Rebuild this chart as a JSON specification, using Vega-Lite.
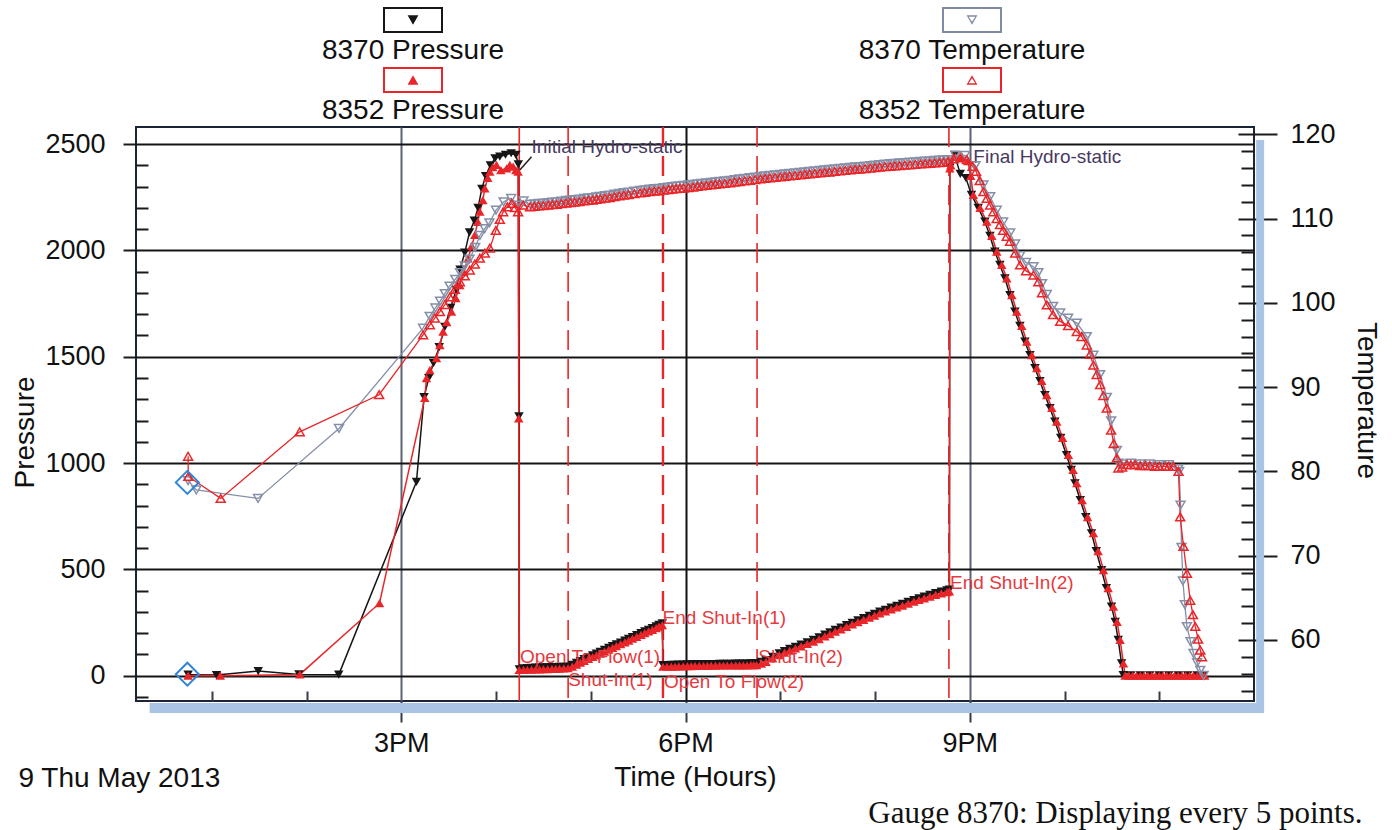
{
  "$schema": "https://vega.github.io/schema/vega-lite/v6.json",
  "width": 1118,
  "height": 574,
  "autosize": {"type": "none"},
  "padding": {"left": 136, "top": 127, "right": 138, "bottom": 129},
  "background": "white",
  "datasets": {
    "pressure": [
      {"s":"8370 Pressure","t":12.75,"v":5},{"s":"8370 Pressure","t":13.05,"v":3},{"s":"8370 Pressure","t":13.49,"v":22},{"s":"8370 Pressure","t":13.92,"v":6},{"s":"8370 Pressure","t":14.34,"v":5},
      {"s":"8370 Pressure","t":15.16,"v":912},{"s":"8370 Pressure","t":15.24,"v":1310},{"s":"8370 Pressure","t":15.29,"v":1400},{"s":"8370 Pressure","t":15.34,"v":1470},{"s":"8370 Pressure","t":15.40,"v":1545},{"s":"8370 Pressure","t":15.46,"v":1640},{"s":"8370 Pressure","t":15.52,"v":1730},{"s":"8370 Pressure","t":15.58,"v":1815},{"s":"8370 Pressure","t":15.62,"v":1910},{"s":"8370 Pressure","t":15.67,"v":1990},{"s":"8370 Pressure","t":15.72,"v":2085},{"s":"8370 Pressure","t":15.77,"v":2140},{"s":"8370 Pressure","t":15.81,"v":2200},{"s":"8370 Pressure","t":15.85,"v":2290},{"s":"8370 Pressure","t":15.89,"v":2350},{"s":"8370 Pressure","t":15.94,"v":2400},{"s":"8370 Pressure","t":15.99,"v":2433},{"s":"8370 Pressure","t":16.04,"v":2441},{"s":"8370 Pressure","t":16.10,"v":2450},{"s":"8370 Pressure","t":16.16,"v":2457},{"s":"8370 Pressure","t":16.21,"v":2449},{"s":"8370 Pressure","t":16.235,"v":2405},{"s":"8370 Pressure","t":16.242,"v":1220},{"s":"8370 Pressure","t":16.246,"v":30},
      {"s":"8370 Pressure","t":16.29,"v":35},{"s":"8370 Pressure","t":16.33,"v":36},{"s":"8370 Pressure","t":16.375,"v":37},{"s":"8370 Pressure","t":16.42,"v":38},{"s":"8370 Pressure","t":16.46,"v":38},{"s":"8370 Pressure","t":16.50,"v":39},{"s":"8370 Pressure","t":16.545,"v":39},{"s":"8370 Pressure","t":16.59,"v":40},{"s":"8370 Pressure","t":16.63,"v":40},{"s":"8370 Pressure","t":16.67,"v":41},{"s":"8370 Pressure","t":16.715,"v":42},{"s":"8370 Pressure","t":16.76,"v":43},{"s":"8370 Pressure","t":16.805,"v":51},{"s":"8370 Pressure","t":16.85,"v":60},{"s":"8370 Pressure","t":16.89,"v":69},{"s":"8370 Pressure","t":16.93,"v":78},{"s":"8370 Pressure","t":16.975,"v":87},{"s":"8370 Pressure","t":17.02,"v":96},{"s":"8370 Pressure","t":17.06,"v":104},{"s":"8370 Pressure","t":17.10,"v":112},{"s":"8370 Pressure","t":17.145,"v":121},{"s":"8370 Pressure","t":17.19,"v":131},{"s":"8370 Pressure","t":17.23,"v":139},{"s":"8370 Pressure","t":17.27,"v":147},{"s":"8370 Pressure","t":17.315,"v":156},{"s":"8370 Pressure","t":17.36,"v":165},{"s":"8370 Pressure","t":17.40,"v":173},{"s":"8370 Pressure","t":17.44,"v":182},{"s":"8370 Pressure","t":17.485,"v":191},{"s":"8370 Pressure","t":17.53,"v":200},{"s":"8370 Pressure","t":17.57,"v":208},{"s":"8370 Pressure","t":17.61,"v":216},{"s":"8370 Pressure","t":17.65,"v":224},{"s":"8370 Pressure","t":17.69,"v":232},{"s":"8370 Pressure","t":17.72,"v":239},{"s":"8370 Pressure","t":17.755,"v":246},
      {"s":"8370 Pressure","t":17.762,"v":50},{"s":"8370 Pressure","t":17.805,"v":50},{"s":"8370 Pressure","t":17.85,"v":51},{"s":"8370 Pressure","t":17.89,"v":51},{"s":"8370 Pressure","t":17.93,"v":52},{"s":"8370 Pressure","t":17.975,"v":52},{"s":"8370 Pressure","t":18.02,"v":53},{"s":"8370 Pressure","t":18.06,"v":53},{"s":"8370 Pressure","t":18.10,"v":54},{"s":"8370 Pressure","t":18.145,"v":54},{"s":"8370 Pressure","t":18.19,"v":54},{"s":"8370 Pressure","t":18.23,"v":54},{"s":"8370 Pressure","t":18.27,"v":55},{"s":"8370 Pressure","t":18.315,"v":55},{"s":"8370 Pressure","t":18.36,"v":56},{"s":"8370 Pressure","t":18.40,"v":56},{"s":"8370 Pressure","t":18.44,"v":56},{"s":"8370 Pressure","t":18.485,"v":56},{"s":"8370 Pressure","t":18.53,"v":57},{"s":"8370 Pressure","t":18.57,"v":57},{"s":"8370 Pressure","t":18.61,"v":57},{"s":"8370 Pressure","t":18.65,"v":57},{"s":"8370 Pressure","t":18.69,"v":58},{"s":"8370 Pressure","t":18.72,"v":58},{"s":"8370 Pressure","t":18.75,"v":58},
      {"s":"8370 Pressure","t":18.80,"v":65},{"s":"8370 Pressure","t":18.85,"v":73},{"s":"8370 Pressure","t":18.92,"v":89},{"s":"8370 Pressure","t":18.99,"v":105},{"s":"8370 Pressure","t":19.045,"v":116},{"s":"8370 Pressure","t":19.10,"v":126},{"s":"8370 Pressure","t":19.16,"v":136},{"s":"8370 Pressure","t":19.22,"v":146},{"s":"8370 Pressure","t":19.285,"v":157},{"s":"8370 Pressure","t":19.35,"v":168},{"s":"8370 Pressure","t":19.41,"v":180},{"s":"8370 Pressure","t":19.47,"v":193},{"s":"8370 Pressure","t":19.525,"v":204},{"s":"8370 Pressure","t":19.58,"v":215},{"s":"8370 Pressure","t":19.64,"v":226},{"s":"8370 Pressure","t":19.70,"v":238},{"s":"8370 Pressure","t":19.76,"v":249},{"s":"8370 Pressure","t":19.82,"v":260},{"s":"8370 Pressure","t":19.88,"v":271},{"s":"8370 Pressure","t":19.94,"v":281},{"s":"8370 Pressure","t":19.995,"v":291},{"s":"8370 Pressure","t":20.05,"v":301},{"s":"8370 Pressure","t":20.11,"v":310},{"s":"8370 Pressure","t":20.17,"v":320},{"s":"8370 Pressure","t":20.23,"v":329},{"s":"8370 Pressure","t":20.29,"v":338},{"s":"8370 Pressure","t":20.35,"v":347},{"s":"8370 Pressure","t":20.41,"v":356},{"s":"8370 Pressure","t":20.465,"v":364},{"s":"8370 Pressure","t":20.52,"v":372},{"s":"8370 Pressure","t":20.58,"v":380},{"s":"8370 Pressure","t":20.64,"v":388},{"s":"8370 Pressure","t":20.70,"v":395},{"s":"8370 Pressure","t":20.76,"v":401},{"s":"8370 Pressure","t":20.785,"v":405},
      {"s":"8370 Pressure","t":20.79,"v":2390},{"s":"8370 Pressure","t":20.84,"v":2450},{"s":"8370 Pressure","t":20.90,"v":2360},{"s":"8370 Pressure","t":20.96,"v":2340},
      {"s":"8370 Pressure","t":21.018,"v":2261},{"s":"8370 Pressure","t":21.089,"v":2200},{"s":"8370 Pressure","t":21.160,"v":2135},{"s":"8370 Pressure","t":21.213,"v":2068},{"s":"8370 Pressure","t":21.265,"v":1994},{"s":"8370 Pressure","t":21.318,"v":1932},{"s":"8370 Pressure","t":21.371,"v":1869},{"s":"8370 Pressure","t":21.424,"v":1790},{"s":"8370 Pressure","t":21.476,"v":1712},{"s":"8370 Pressure","t":21.529,"v":1645},{"s":"8370 Pressure","t":21.582,"v":1571},{"s":"8370 Pressure","t":21.635,"v":1508},{"s":"8370 Pressure","t":21.688,"v":1446},{"s":"8370 Pressure","t":21.740,"v":1386},{"s":"8370 Pressure","t":21.793,"v":1320},{"s":"8370 Pressure","t":21.846,"v":1259},{"s":"8370 Pressure","t":21.898,"v":1195},{"s":"8370 Pressure","t":21.960,"v":1118},{"s":"8370 Pressure","t":22.021,"v":1038},{"s":"8370 Pressure","t":22.071,"v":968},{"s":"8370 Pressure","t":22.110,"v":905},{"s":"8370 Pressure","t":22.166,"v":826},{"s":"8370 Pressure","t":22.224,"v":746},{"s":"8370 Pressure","t":22.285,"v":670},{"s":"8370 Pressure","t":22.335,"v":586},{"s":"8370 Pressure","t":22.391,"v":497},{"s":"8370 Pressure","t":22.441,"v":412},{"s":"8370 Pressure","t":22.496,"v":325},{"s":"8370 Pressure","t":22.535,"v":253},{"s":"8370 Pressure","t":22.567,"v":168},{"s":"8370 Pressure","t":22.602,"v":58},{"s":"8370 Pressure","t":22.620,"v":3},
      {"s":"8370 Pressure","t":22.70,"v":2},{"s":"8370 Pressure","t":22.80,"v":2},{"s":"8370 Pressure","t":22.90,"v":2},{"s":"8370 Pressure","t":23.00,"v":2},{"s":"8370 Pressure","t":23.10,"v":2},{"s":"8370 Pressure","t":23.20,"v":2},{"s":"8370 Pressure","t":23.30,"v":2},{"s":"8370 Pressure","t":23.40,"v":2},{"s":"8370 Pressure","t":23.46,"v":2},

      {"s":"8352 Pressure","t":12.75,"v":0},{"s":"8352 Pressure","t":13.09,"v":0},{"s":"8352 Pressure","t":13.93,"v":6},{"s":"8352 Pressure","t":14.77,"v":341},
      {"s":"8352 Pressure","t":15.248,"v":1306},{"s":"8352 Pressure","t":15.266,"v":1399},{"s":"8352 Pressure","t":15.301,"v":1437},{"s":"8352 Pressure","t":15.372,"v":1493},{"s":"8352 Pressure","t":15.407,"v":1555},{"s":"8352 Pressure","t":15.441,"v":1618},{"s":"8352 Pressure","t":15.480,"v":1663},{"s":"8352 Pressure","t":15.530,"v":1712},{"s":"8352 Pressure","t":15.576,"v":1776},{"s":"8352 Pressure","t":15.618,"v":1837},{"s":"8352 Pressure","t":15.660,"v":1899},{"s":"8352 Pressure","t":15.705,"v":1963},{"s":"8352 Pressure","t":15.744,"v":2021},{"s":"8352 Pressure","t":15.776,"v":2073},{"s":"8352 Pressure","t":15.808,"v":2134},{"s":"8352 Pressure","t":15.829,"v":2182},{"s":"8352 Pressure","t":15.861,"v":2237},{"s":"8352 Pressure","t":15.882,"v":2292},{"s":"8352 Pressure","t":15.913,"v":2341},{"s":"8352 Pressure","t":15.935,"v":2370},{"s":"8352 Pressure","t":15.966,"v":2392},{"s":"8352 Pressure","t":16.005,"v":2402},{"s":"8352 Pressure","t":16.051,"v":2378},{"s":"8352 Pressure","t":16.111,"v":2386},{"s":"8352 Pressure","t":16.146,"v":2402},{"s":"8352 Pressure","t":16.181,"v":2394},{"s":"8352 Pressure","t":16.209,"v":2378},{"s":"8352 Pressure","t":16.233,"v":2370},{"s":"8352 Pressure","t":16.240,"v":1210},{"s":"8352 Pressure","t":16.245,"v":27},
      {"s":"8352 Pressure","t":16.29,"v":27},{"s":"8352 Pressure","t":16.33,"v":28},{"s":"8352 Pressure","t":16.375,"v":29},{"s":"8352 Pressure","t":16.42,"v":30},{"s":"8352 Pressure","t":16.46,"v":30},{"s":"8352 Pressure","t":16.50,"v":31},{"s":"8352 Pressure","t":16.545,"v":31},{"s":"8352 Pressure","t":16.59,"v":32},{"s":"8352 Pressure","t":16.63,"v":32},{"s":"8352 Pressure","t":16.67,"v":33},{"s":"8352 Pressure","t":16.715,"v":34},{"s":"8352 Pressure","t":16.76,"v":35},{"s":"8352 Pressure","t":16.805,"v":43},{"s":"8352 Pressure","t":16.85,"v":52},{"s":"8352 Pressure","t":16.89,"v":61},{"s":"8352 Pressure","t":16.93,"v":70},{"s":"8352 Pressure","t":16.975,"v":79},{"s":"8352 Pressure","t":17.02,"v":88},{"s":"8352 Pressure","t":17.06,"v":96},{"s":"8352 Pressure","t":17.10,"v":104},{"s":"8352 Pressure","t":17.145,"v":113},{"s":"8352 Pressure","t":17.19,"v":123},{"s":"8352 Pressure","t":17.23,"v":131},{"s":"8352 Pressure","t":17.27,"v":139},{"s":"8352 Pressure","t":17.315,"v":148},{"s":"8352 Pressure","t":17.36,"v":157},{"s":"8352 Pressure","t":17.40,"v":165},{"s":"8352 Pressure","t":17.44,"v":174},{"s":"8352 Pressure","t":17.485,"v":183},{"s":"8352 Pressure","t":17.53,"v":192},{"s":"8352 Pressure","t":17.57,"v":200},{"s":"8352 Pressure","t":17.61,"v":208},{"s":"8352 Pressure","t":17.65,"v":216},{"s":"8352 Pressure","t":17.69,"v":224},{"s":"8352 Pressure","t":17.72,"v":231},{"s":"8352 Pressure","t":17.755,"v":238},
      {"s":"8352 Pressure","t":17.762,"v":42},{"s":"8352 Pressure","t":17.805,"v":42},{"s":"8352 Pressure","t":17.85,"v":43},{"s":"8352 Pressure","t":17.89,"v":43},{"s":"8352 Pressure","t":17.93,"v":44},{"s":"8352 Pressure","t":17.975,"v":44},{"s":"8352 Pressure","t":18.02,"v":45},{"s":"8352 Pressure","t":18.06,"v":45},{"s":"8352 Pressure","t":18.10,"v":46},{"s":"8352 Pressure","t":18.145,"v":46},{"s":"8352 Pressure","t":18.19,"v":46},{"s":"8352 Pressure","t":18.23,"v":46},{"s":"8352 Pressure","t":18.27,"v":47},{"s":"8352 Pressure","t":18.315,"v":47},{"s":"8352 Pressure","t":18.36,"v":48},{"s":"8352 Pressure","t":18.40,"v":48},{"s":"8352 Pressure","t":18.44,"v":48},{"s":"8352 Pressure","t":18.485,"v":48},{"s":"8352 Pressure","t":18.53,"v":49},{"s":"8352 Pressure","t":18.57,"v":49},{"s":"8352 Pressure","t":18.61,"v":49},{"s":"8352 Pressure","t":18.65,"v":49},{"s":"8352 Pressure","t":18.69,"v":50},{"s":"8352 Pressure","t":18.72,"v":50},{"s":"8352 Pressure","t":18.75,"v":50},
      {"s":"8352 Pressure","t":18.80,"v":57},{"s":"8352 Pressure","t":18.85,"v":65},{"s":"8352 Pressure","t":18.92,"v":81},{"s":"8352 Pressure","t":18.99,"v":97},{"s":"8352 Pressure","t":19.045,"v":108},{"s":"8352 Pressure","t":19.10,"v":118},{"s":"8352 Pressure","t":19.16,"v":128},{"s":"8352 Pressure","t":19.22,"v":138},{"s":"8352 Pressure","t":19.285,"v":149},{"s":"8352 Pressure","t":19.35,"v":160},{"s":"8352 Pressure","t":19.41,"v":172},{"s":"8352 Pressure","t":19.47,"v":185},{"s":"8352 Pressure","t":19.525,"v":196},{"s":"8352 Pressure","t":19.58,"v":207},{"s":"8352 Pressure","t":19.64,"v":218},{"s":"8352 Pressure","t":19.70,"v":230},{"s":"8352 Pressure","t":19.76,"v":241},{"s":"8352 Pressure","t":19.82,"v":252},{"s":"8352 Pressure","t":19.88,"v":263},{"s":"8352 Pressure","t":19.94,"v":273},{"s":"8352 Pressure","t":19.995,"v":283},{"s":"8352 Pressure","t":20.05,"v":293},{"s":"8352 Pressure","t":20.11,"v":302},{"s":"8352 Pressure","t":20.17,"v":312},{"s":"8352 Pressure","t":20.23,"v":321},{"s":"8352 Pressure","t":20.29,"v":330},{"s":"8352 Pressure","t":20.35,"v":339},{"s":"8352 Pressure","t":20.41,"v":348},{"s":"8352 Pressure","t":20.465,"v":356},{"s":"8352 Pressure","t":20.52,"v":364},{"s":"8352 Pressure","t":20.58,"v":372},{"s":"8352 Pressure","t":20.64,"v":380},{"s":"8352 Pressure","t":20.70,"v":387},{"s":"8352 Pressure","t":20.76,"v":393},{"s":"8352 Pressure","t":20.785,"v":397},
      {"s":"8352 Pressure","t":20.79,"v":2386},{"s":"8352 Pressure","t":20.80,"v":2400},{"s":"8352 Pressure","t":20.85,"v":2440},{"s":"8352 Pressure","t":20.92,"v":2440},{"s":"8352 Pressure","t":20.98,"v":2420},{"s":"8352 Pressure","t":21.01,"v":2350},
      {"s":"8352 Pressure","t":21.038,"v":2261},{"s":"8352 Pressure","t":21.109,"v":2200},{"s":"8352 Pressure","t":21.180,"v":2135},{"s":"8352 Pressure","t":21.233,"v":2068},{"s":"8352 Pressure","t":21.285,"v":1994},{"s":"8352 Pressure","t":21.338,"v":1932},{"s":"8352 Pressure","t":21.391,"v":1869},{"s":"8352 Pressure","t":21.444,"v":1790},{"s":"8352 Pressure","t":21.496,"v":1712},{"s":"8352 Pressure","t":21.549,"v":1645},{"s":"8352 Pressure","t":21.602,"v":1571},{"s":"8352 Pressure","t":21.655,"v":1508},{"s":"8352 Pressure","t":21.708,"v":1446},{"s":"8352 Pressure","t":21.760,"v":1386},{"s":"8352 Pressure","t":21.813,"v":1320},{"s":"8352 Pressure","t":21.866,"v":1259},{"s":"8352 Pressure","t":21.918,"v":1195},{"s":"8352 Pressure","t":21.980,"v":1118},{"s":"8352 Pressure","t":22.041,"v":1038},{"s":"8352 Pressure","t":22.091,"v":968},{"s":"8352 Pressure","t":22.130,"v":905},{"s":"8352 Pressure","t":22.186,"v":826},{"s":"8352 Pressure","t":22.244,"v":746},{"s":"8352 Pressure","t":22.305,"v":670},{"s":"8352 Pressure","t":22.355,"v":586},{"s":"8352 Pressure","t":22.411,"v":497},{"s":"8352 Pressure","t":22.461,"v":412},{"s":"8352 Pressure","t":22.516,"v":325},{"s":"8352 Pressure","t":22.555,"v":253},{"s":"8352 Pressure","t":22.587,"v":168},{"s":"8352 Pressure","t":22.622,"v":58},{"s":"8352 Pressure","t":22.640,"v":0},
      {"s":"8352 Pressure","t":22.68,"v":0},{"s":"8352 Pressure","t":22.72,"v":0},{"s":"8352 Pressure","t":22.76,"v":0},{"s":"8352 Pressure","t":22.80,"v":0},{"s":"8352 Pressure","t":22.84,"v":0},{"s":"8352 Pressure","t":22.88,"v":0},{"s":"8352 Pressure","t":22.92,"v":0},{"s":"8352 Pressure","t":22.96,"v":0},{"s":"8352 Pressure","t":23.00,"v":0},{"s":"8352 Pressure","t":23.04,"v":0},{"s":"8352 Pressure","t":23.08,"v":0},{"s":"8352 Pressure","t":23.12,"v":0},{"s":"8352 Pressure","t":23.16,"v":0},{"s":"8352 Pressure","t":23.20,"v":0},{"s":"8352 Pressure","t":23.24,"v":0},{"s":"8352 Pressure","t":23.28,"v":0},{"s":"8352 Pressure","t":23.32,"v":0},{"s":"8352 Pressure","t":23.36,"v":0},{"s":"8352 Pressure","t":23.40,"v":0},{"s":"8352 Pressure","t":23.44,"v":0},{"s":"8352 Pressure","t":23.48,"v":0}
    ],
    "temperature": [
      {"s":"8370 Temperature","t":12.75,"v":78.9},{"s":"8370 Temperature","t":12.837,"v":77.8},{"s":"8370 Temperature","t":13.488,"v":76.8},{"s":"8370 Temperature","t":14.343,"v":85.1},{"s":"8370 Temperature","t":15.23,"v":97.0},{"s":"8370 Temperature","t":15.30,"v":98.4},{"s":"8370 Temperature","t":15.36,"v":99.4},{"s":"8370 Temperature","t":15.41,"v":100.2},{"s":"8370 Temperature","t":15.46,"v":101.1},{"s":"8370 Temperature","t":15.51,"v":102.0},{"s":"8370 Temperature","t":15.57,"v":102.8},{"s":"8370 Temperature","t":15.62,"v":103.6},{"s":"8370 Temperature","t":15.67,"v":104.4},{"s":"8370 Temperature","t":15.72,"v":105.2},{"s":"8370 Temperature","t":15.78,"v":106.6},{"s":"8370 Temperature","t":15.83,"v":108.0},{"s":"8370 Temperature","t":15.88,"v":108.8},{"s":"8370 Temperature","t":15.93,"v":109.5},{"s":"8370 Temperature","t":16.00,"v":111.0},{"s":"8370 Temperature","t":16.08,"v":112.0},{"s":"8370 Temperature","t":16.16,"v":112.4},{"s":"8370 Temperature","t":16.23,"v":111.6},{"s":"8370 Temperature","t":16.29,"v":112.1},
      {"s":"8370 Temperature","t":16.36,"v":111.7},{"s":"8370 Temperature","t":16.405,"v":111.75},{"s":"8370 Temperature","t":16.45,"v":111.8},{"s":"8370 Temperature","t":16.50,"v":111.85},{"s":"8370 Temperature","t":16.55,"v":111.9},{"s":"8370 Temperature","t":16.595,"v":111.95},{"s":"8370 Temperature","t":16.64,"v":112.0},{"s":"8370 Temperature","t":16.69,"v":112.08},{"s":"8370 Temperature","t":16.74,"v":112.15},{"s":"8370 Temperature","t":16.785,"v":112.2},{"s":"8370 Temperature","t":16.83,"v":112.25},{"s":"8370 Temperature","t":16.88,"v":112.32},{"s":"8370 Temperature","t":16.93,"v":112.4},{"s":"8370 Temperature","t":16.975,"v":112.45},{"s":"8370 Temperature","t":17.02,"v":112.5},{"s":"8370 Temperature","t":17.06,"v":112.57},{"s":"8370 Temperature","t":17.10,"v":112.63},{"s":"8370 Temperature","t":17.15,"v":112.72},{"s":"8370 Temperature","t":17.20,"v":112.8},{"s":"8370 Temperature","t":17.25,"v":112.9},{"s":"8370 Temperature","t":17.30,"v":113.0},{"s":"8370 Temperature","t":17.35,"v":113.08},{"s":"8370 Temperature","t":17.40,"v":113.15},{"s":"8370 Temperature","t":17.46,"v":113.25},{"s":"8370 Temperature","t":17.52,"v":113.34},{"s":"8370 Temperature","t":17.57,"v":113.42},{"s":"8370 Temperature","t":17.62,"v":113.5},{"s":"8370 Temperature","t":17.67,"v":113.55},{"s":"8370 Temperature","t":17.72,"v":113.6},{"s":"8370 Temperature","t":17.77,"v":113.68},{"s":"8370 Temperature","t":17.82,"v":113.75},{"s":"8370 Temperature","t":17.86,"v":113.8},{"s":"8370 Temperature","t":17.90,"v":113.85},{"s":"8370 Temperature","t":17.94,"v":113.89},{"s":"8370 Temperature","t":17.98,"v":113.93},{"s":"8370 Temperature","t":18.03,"v":113.99},{"s":"8370 Temperature","t":18.08,"v":114.05},{"s":"8370 Temperature","t":18.125,"v":114.12},{"s":"8370 Temperature","t":18.17,"v":114.18},{"s":"8370 Temperature","t":18.22,"v":114.24},{"s":"8370 Temperature","t":18.27,"v":114.3},{"s":"8370 Temperature","t":18.315,"v":114.36},{"s":"8370 Temperature","t":18.36,"v":114.41},{"s":"8370 Temperature","t":18.415,"v":114.48},{"s":"8370 Temperature","t":18.47,"v":114.55},{"s":"8370 Temperature","t":18.52,"v":114.63},{"s":"8370 Temperature","t":18.57,"v":114.7},{"s":"8370 Temperature","t":18.625,"v":114.78},{"s":"8370 Temperature","t":18.68,"v":114.85},{"s":"8370 Temperature","t":18.735,"v":114.93},{"s":"8370 Temperature","t":18.79,"v":115.0},{"s":"8370 Temperature","t":18.84,"v":115.06},{"s":"8370 Temperature","t":18.89,"v":115.12},{"s":"8370 Temperature","t":18.945,"v":115.19},{"s":"8370 Temperature","t":19.00,"v":115.25},{"s":"8370 Temperature","t":19.05,"v":115.3},{"s":"8370 Temperature","t":19.10,"v":115.36},{"s":"8370 Temperature","t":19.155,"v":115.42},{"s":"8370 Temperature","t":19.21,"v":115.48},{"s":"8370 Temperature","t":19.26,"v":115.54},{"s":"8370 Temperature","t":19.31,"v":115.6},{"s":"8370 Temperature","t":19.365,"v":115.66},{"s":"8370 Temperature","t":19.42,"v":115.72},{"s":"8370 Temperature","t":19.47,"v":115.78},{"s":"8370 Temperature","t":19.52,"v":115.83},{"s":"8370 Temperature","t":19.575,"v":115.89},{"s":"8370 Temperature","t":19.63,"v":115.95},{"s":"8370 Temperature","t":19.685,"v":116.01},{"s":"8370 Temperature","t":19.74,"v":116.07},{"s":"8370 Temperature","t":19.79,"v":116.13},{"s":"8370 Temperature","t":19.84,"v":116.18},{"s":"8370 Temperature","t":19.895,"v":116.24},{"s":"8370 Temperature","t":19.95,"v":116.3},{"s":"8370 Temperature","t":20.00,"v":116.36},{"s":"8370 Temperature","t":20.05,"v":116.42},{"s":"8370 Temperature","t":20.105,"v":116.47},{"s":"8370 Temperature","t":20.16,"v":116.51},{"s":"8370 Temperature","t":20.21,"v":116.56},{"s":"8370 Temperature","t":20.26,"v":116.6},{"s":"8370 Temperature","t":20.315,"v":116.65},{"s":"8370 Temperature","t":20.37,"v":116.69},{"s":"8370 Temperature","t":20.425,"v":116.74},{"s":"8370 Temperature","t":20.48,"v":116.78},{"s":"8370 Temperature","t":20.53,"v":116.82},{"s":"8370 Temperature","t":20.58,"v":116.86},{"s":"8370 Temperature","t":20.63,"v":116.9},{"s":"8370 Temperature","t":20.68,"v":116.94},{"s":"8370 Temperature","t":20.725,"v":116.98},{"s":"8370 Temperature","t":20.77,"v":117.0},
      {"s":"8370 Temperature","t":20.85,"v":117.5},{"s":"8370 Temperature","t":20.95,"v":117.5},{"s":"8370 Temperature","t":21.06,"v":116.3},{"s":"8370 Temperature","t":21.144,"v":114.0},{"s":"8370 Temperature","t":21.215,"v":112.6},{"s":"8370 Temperature","t":21.285,"v":111.0},{"s":"8370 Temperature","t":21.352,"v":109.6},{"s":"8370 Temperature","t":21.426,"v":108.3},{"s":"8370 Temperature","t":21.479,"v":107.0},{"s":"8370 Temperature","t":21.531,"v":105.6},{"s":"8370 Temperature","t":21.594,"v":104.8},{"s":"8370 Temperature","t":21.672,"v":104.3},{"s":"8370 Temperature","t":21.724,"v":103.6},{"s":"8370 Temperature","t":21.763,"v":102.3},{"s":"8370 Temperature","t":21.813,"v":101.0},{"s":"8370 Temperature","t":21.879,"v":99.6},{"s":"8370 Temperature","t":21.954,"v":98.8},{"s":"8370 Temperature","t":22.038,"v":98.2},{"s":"8370 Temperature","t":22.130,"v":97.6},{"s":"8370 Temperature","t":22.235,"v":96.0},{"s":"8370 Temperature","t":22.305,"v":93.8},{"s":"8370 Temperature","t":22.376,"v":91.5},{"s":"8370 Temperature","t":22.446,"v":88.8},{"s":"8370 Temperature","t":22.492,"v":86.0},{"s":"8370 Temperature","t":22.552,"v":82.5},{"s":"8370 Temperature","t":22.569,"v":81.0},{"s":"8370 Temperature","t":22.608,"v":80.9},{"s":"8370 Temperature","t":22.70,"v":81.0},{"s":"8370 Temperature","t":22.80,"v":80.9},{"s":"8370 Temperature","t":22.90,"v":80.9},{"s":"8370 Temperature","t":23.00,"v":80.8},{"s":"8370 Temperature","t":23.10,"v":80.8},{"s":"8370 Temperature","t":23.20,"v":80.3},{"s":"8370 Temperature","t":23.21,"v":80.0},{"s":"8370 Temperature","t":23.225,"v":76.0},{"s":"8370 Temperature","t":23.235,"v":71.0},{"s":"8370 Temperature","t":23.25,"v":67.0},{"s":"8370 Temperature","t":23.27,"v":64.2},{"s":"8370 Temperature","t":23.292,"v":61.6},{"s":"8370 Temperature","t":23.33,"v":59.8},{"s":"8370 Temperature","t":23.362,"v":58.4},{"s":"8370 Temperature","t":23.40,"v":57.3},{"s":"8370 Temperature","t":23.433,"v":56.4},{"s":"8370 Temperature","t":23.468,"v":55.8},

      {"s":"8352 Temperature","t":12.75,"v":81.8},{"s":"8352 Temperature","t":12.752,"v":79.4},{"s":"8352 Temperature","t":13.094,"v":76.8},{"s":"8352 Temperature","t":13.928,"v":84.7},{"s":"8352 Temperature","t":14.766,"v":89.1},{"s":"8352 Temperature","t":15.230,"v":96.2},{"s":"8352 Temperature","t":15.301,"v":97.4},{"s":"8352 Temperature","t":15.354,"v":98.2},{"s":"8352 Temperature","t":15.407,"v":98.95},{"s":"8352 Temperature","t":15.460,"v":99.8},{"s":"8352 Temperature","t":15.512,"v":100.7},{"s":"8352 Temperature","t":15.565,"v":101.6},{"s":"8352 Temperature","t":15.618,"v":102.5},{"s":"8352 Temperature","t":15.670,"v":103.2},{"s":"8352 Temperature","t":15.723,"v":103.9},{"s":"8352 Temperature","t":15.776,"v":104.6},{"s":"8352 Temperature","t":15.829,"v":105.3},{"s":"8352 Temperature","t":15.882,"v":105.9},{"s":"8352 Temperature","t":15.935,"v":106.5},{"s":"8352 Temperature","t":15.998,"v":108.6},{"s":"8352 Temperature","t":16.040,"v":109.9},{"s":"8352 Temperature","t":16.075,"v":110.8},{"s":"8352 Temperature","t":16.12,"v":111.4},{"s":"8352 Temperature","t":16.164,"v":111.8},{"s":"8352 Temperature","t":16.20,"v":111.3},{"s":"8352 Temperature","t":16.233,"v":110.8},{"s":"8352 Temperature","t":16.286,"v":111.6},
      {"s":"8352 Temperature","t":16.36,"v":111.4},{"s":"8352 Temperature","t":16.405,"v":111.45},{"s":"8352 Temperature","t":16.45,"v":111.5},{"s":"8352 Temperature","t":16.50,"v":111.55},{"s":"8352 Temperature","t":16.55,"v":111.6},{"s":"8352 Temperature","t":16.595,"v":111.65},{"s":"8352 Temperature","t":16.64,"v":111.7},{"s":"8352 Temperature","t":16.69,"v":111.78},{"s":"8352 Temperature","t":16.74,"v":111.85},{"s":"8352 Temperature","t":16.785,"v":111.9},{"s":"8352 Temperature","t":16.83,"v":111.95},{"s":"8352 Temperature","t":16.88,"v":112.02},{"s":"8352 Temperature","t":16.93,"v":112.1},{"s":"8352 Temperature","t":16.975,"v":112.15},{"s":"8352 Temperature","t":17.02,"v":112.2},{"s":"8352 Temperature","t":17.06,"v":112.27},{"s":"8352 Temperature","t":17.10,"v":112.33},{"s":"8352 Temperature","t":17.15,"v":112.42},{"s":"8352 Temperature","t":17.20,"v":112.5},{"s":"8352 Temperature","t":17.25,"v":112.6},{"s":"8352 Temperature","t":17.30,"v":112.7},{"s":"8352 Temperature","t":17.35,"v":112.78},{"s":"8352 Temperature","t":17.40,"v":112.85},{"s":"8352 Temperature","t":17.46,"v":112.95},{"s":"8352 Temperature","t":17.52,"v":113.04},{"s":"8352 Temperature","t":17.57,"v":113.12},{"s":"8352 Temperature","t":17.62,"v":113.2},{"s":"8352 Temperature","t":17.67,"v":113.25},{"s":"8352 Temperature","t":17.72,"v":113.3},{"s":"8352 Temperature","t":17.77,"v":113.38},{"s":"8352 Temperature","t":17.82,"v":113.45},{"s":"8352 Temperature","t":17.86,"v":113.5},{"s":"8352 Temperature","t":17.90,"v":113.55},{"s":"8352 Temperature","t":17.94,"v":113.59},{"s":"8352 Temperature","t":17.98,"v":113.63},{"s":"8352 Temperature","t":18.03,"v":113.69},{"s":"8352 Temperature","t":18.08,"v":113.75},{"s":"8352 Temperature","t":18.125,"v":113.82},{"s":"8352 Temperature","t":18.17,"v":113.88},{"s":"8352 Temperature","t":18.22,"v":113.94},{"s":"8352 Temperature","t":18.27,"v":114.0},{"s":"8352 Temperature","t":18.315,"v":114.06},{"s":"8352 Temperature","t":18.36,"v":114.11},{"s":"8352 Temperature","t":18.415,"v":114.18},{"s":"8352 Temperature","t":18.47,"v":114.25},{"s":"8352 Temperature","t":18.52,"v":114.33},{"s":"8352 Temperature","t":18.57,"v":114.4},{"s":"8352 Temperature","t":18.625,"v":114.48},{"s":"8352 Temperature","t":18.68,"v":114.55},{"s":"8352 Temperature","t":18.735,"v":114.63},{"s":"8352 Temperature","t":18.79,"v":114.7},{"s":"8352 Temperature","t":18.84,"v":114.76},{"s":"8352 Temperature","t":18.89,"v":114.82},{"s":"8352 Temperature","t":18.945,"v":114.89},{"s":"8352 Temperature","t":19.00,"v":114.95},{"s":"8352 Temperature","t":19.05,"v":115.0},{"s":"8352 Temperature","t":19.10,"v":115.06},{"s":"8352 Temperature","t":19.155,"v":115.12},{"s":"8352 Temperature","t":19.21,"v":115.18},{"s":"8352 Temperature","t":19.26,"v":115.24},{"s":"8352 Temperature","t":19.31,"v":115.3},{"s":"8352 Temperature","t":19.365,"v":115.36},{"s":"8352 Temperature","t":19.42,"v":115.42},{"s":"8352 Temperature","t":19.47,"v":115.48},{"s":"8352 Temperature","t":19.52,"v":115.53},{"s":"8352 Temperature","t":19.575,"v":115.59},{"s":"8352 Temperature","t":19.63,"v":115.65},{"s":"8352 Temperature","t":19.685,"v":115.71},{"s":"8352 Temperature","t":19.74,"v":115.77},{"s":"8352 Temperature","t":19.79,"v":115.83},{"s":"8352 Temperature","t":19.84,"v":115.88},{"s":"8352 Temperature","t":19.895,"v":115.94},{"s":"8352 Temperature","t":19.95,"v":116.0},{"s":"8352 Temperature","t":20.00,"v":116.06},{"s":"8352 Temperature","t":20.05,"v":116.12},{"s":"8352 Temperature","t":20.105,"v":116.17},{"s":"8352 Temperature","t":20.16,"v":116.21},{"s":"8352 Temperature","t":20.21,"v":116.26},{"s":"8352 Temperature","t":20.26,"v":116.3},{"s":"8352 Temperature","t":20.315,"v":116.35},{"s":"8352 Temperature","t":20.37,"v":116.39},{"s":"8352 Temperature","t":20.425,"v":116.44},{"s":"8352 Temperature","t":20.48,"v":116.48},{"s":"8352 Temperature","t":20.53,"v":116.52},{"s":"8352 Temperature","t":20.58,"v":116.56},{"s":"8352 Temperature","t":20.63,"v":116.6},{"s":"8352 Temperature","t":20.68,"v":116.64},{"s":"8352 Temperature","t":20.725,"v":116.68},{"s":"8352 Temperature","t":20.77,"v":116.72},
      {"s":"8352 Temperature","t":20.83,"v":117.1},{"s":"8352 Temperature","t":20.90,"v":117.2},{"s":"8352 Temperature","t":20.97,"v":117.0},{"s":"8352 Temperature","t":21.03,"v":116.2},{"s":"8352 Temperature","t":21.066,"v":115.6},{"s":"8352 Temperature","t":21.105,"v":114.5},{"s":"8352 Temperature","t":21.144,"v":113.2},{"s":"8352 Temperature","t":21.18,"v":112.4},{"s":"8352 Temperature","t":21.215,"v":111.6},{"s":"8352 Temperature","t":21.25,"v":110.8},{"s":"8352 Temperature","t":21.285,"v":110.0},{"s":"8352 Temperature","t":21.32,"v":109.3},{"s":"8352 Temperature","t":21.352,"v":108.6},{"s":"8352 Temperature","t":21.39,"v":107.9},{"s":"8352 Temperature","t":21.426,"v":107.3},{"s":"8352 Temperature","t":21.479,"v":105.9},{"s":"8352 Temperature","t":21.531,"v":104.5},{"s":"8352 Temperature","t":21.594,"v":103.8},{"s":"8352 Temperature","t":21.672,"v":103.3},{"s":"8352 Temperature","t":21.724,"v":102.5},{"s":"8352 Temperature","t":21.763,"v":101.2},{"s":"8352 Temperature","t":21.813,"v":99.75},{"s":"8352 Temperature","t":21.879,"v":98.6},{"s":"8352 Temperature","t":21.954,"v":97.8},{"s":"8352 Temperature","t":22.038,"v":97.3},{"s":"8352 Temperature","t":22.130,"v":96.6},{"s":"8352 Temperature","t":22.18,"v":96.0},{"s":"8352 Temperature","t":22.235,"v":95.0},{"s":"8352 Temperature","t":22.27,"v":93.9},{"s":"8352 Temperature","t":22.305,"v":92.6},{"s":"8352 Temperature","t":22.34,"v":91.5},{"s":"8352 Temperature","t":22.376,"v":90.3},{"s":"8352 Temperature","t":22.41,"v":89.0},{"s":"8352 Temperature","t":22.446,"v":87.5},{"s":"8352 Temperature","t":22.492,"v":84.9},{"s":"8352 Temperature","t":22.52,"v":83.3},{"s":"8352 Temperature","t":22.552,"v":81.6},{"s":"8352 Temperature","t":22.569,"v":80.4},{"s":"8352 Temperature","t":22.608,"v":80.5},{"s":"8352 Temperature","t":22.658,"v":80.8},{"s":"8352 Temperature","t":22.70,"v":80.8},{"s":"8352 Temperature","t":22.745,"v":80.8},{"s":"8352 Temperature","t":22.80,"v":80.7},{"s":"8352 Temperature","t":22.851,"v":80.7},{"s":"8352 Temperature","t":22.90,"v":80.7},{"s":"8352 Temperature","t":22.956,"v":80.6},{"s":"8352 Temperature","t":23.00,"v":80.6},{"s":"8352 Temperature","t":23.062,"v":80.6},{"s":"8352 Temperature","t":23.10,"v":80.6},{"s":"8352 Temperature","t":23.150,"v":80.6},{"s":"8352 Temperature","t":23.203,"v":80.0},{"s":"8352 Temperature","t":23.221,"v":74.6},{"s":"8352 Temperature","t":23.256,"v":71.1},{"s":"8352 Temperature","t":23.292,"v":67.9},{"s":"8352 Temperature","t":23.327,"v":64.7},{"s":"8352 Temperature","t":23.355,"v":63.0},{"s":"8352 Temperature","t":23.380,"v":61.6},{"s":"8352 Temperature","t":23.41,"v":60.1},{"s":"8352 Temperature","t":23.433,"v":58.8},{"s":"8352 Temperature","t":23.451,"v":58.0}
    ],
    "events": [
      {"t":16.245,"event":"Open To Flow(1)"},{"t":16.761,"event":"Shut-In(1)"},{"t":17.758,"event":"End Shut-In(1)"},{"t":17.766,"event":"Open To Flow(2)"},{"t":18.755,"event":"Shut-In(2)"},{"t":20.78,"event":"End Shut-In(2)"}
    ],
    "eventLabels": [
      {"t":16.253,"v":89,"label":"Open To Flow(1)"},{"t":16.761,"v":-20,"label":"Shut-In(1)"},{"t":17.758,"v":270,"label":"End Shut-In(1)"},{"t":17.772,"v":-28,"label":"Open To Flow(2)"},{"t":18.768,"v":89,"label":"Shut-In(2)"},{"t":20.792,"v":436,"label":"End Shut-In(2)"}
    ],
    "notes": [
      {"t":16.375,"v":2488,"label":"Initial Hydro-static"},{"t":21.038,"v":2441,"label":"Final Hydro-static"}
    ],
    "leaders": [
      {"t":16.251,"v":2378,"t2":16.375,"v2":2441}
    ]
  },
  "layer": [
    {
      "layer": [
        {
          "data": {"values": [{}]},
          "mark": {"type": "rect", "color": "#a9c4e4"},
          "encoding": {
            "x": {"datum": 12.344, "type": "quantitative", "scale": {"domain": [12.2, 24.0], "nice": false, "zero": false}},
            "x2": {"datum": 24.097},
            "y": {"datum": -128, "type": "quantitative", "scale": {"domain": [-119, 2580.5], "nice": false, "zero": false}},
            "y2": {"datum": -175}
          }
        },
        {
          "data": {"values": [{}]},
          "mark": {"type": "rect", "color": "#a9c4e4"},
          "encoding": {
            "x": {"datum": 24.023, "type": "quantitative", "scale": {"domain": [12.2, 24.0], "nice": false, "zero": false}},
            "x2": {"datum": 24.107},
            "y": {"datum": 2519, "type": "quantitative", "scale": {"domain": [-119, 2580.5], "nice": false, "zero": false}},
            "y2": {"datum": -175}
          }
        },
        {
          "data": {"name": "events"},
          "mark": {"type": "rule", "color": "#e8262a", "strokeWidth": 1.6},
          "encoding": {
            "x": {"field": "t", "type": "quantitative", "scale": {"domain": [12.2, 24.0], "nice": false, "zero": false}},
            "strokeDash": {"condition": {"test": "datum.event === 'Open To Flow(1)'", "value": [1, 0]}, "value": [20, 9]}
          }
        },
        {
          "data": {"name": "pressure"},
          "mark": {"type": "line", "strokeWidth": 1.5},
          "encoding": {
            "x": {"field": "t", "type": "quantitative", "scale": {"domain": [12.2, 24.0], "nice": false, "zero": false},
              "axis": {"orient": "bottom", "values": [13,14,15,16,17,18,19,20,21,22,23], "tickCount": 100, "labelOverlap": false,
                "labelExpr": "datum.value === 15 ? '3PM' : datum.value === 18 ? '6PM' : datum.value === 21 ? '9PM' : ''",
                "tickSize": {"condition": {"test": "datum.value % 3 === 0", "value": 21}, "value": -10},
                "tickColor": "#333a48", "tickWidth": 2,
                "grid": true, "gridWidth": 2,
                "gridOpacity": {"condition": {"test": "datum.value % 3 === 0", "value": 1}, "value": 0},
                "gridColor": {"condition": {"test": "datum.value === 18", "value": "#111111"}, "value": "#5b6374"},
                "domain": false, "labelFontSize": 27, "labelPadding": 8, "labelColor": "#111111",
                "title": "Time (Hours)", "titleFontSize": 28, "titleY": 76, "titleBaseline": "middle", "titleFontWeight": "normal", "titleColor": "#111111"}},
            "y": {"field": "v", "type": "quantitative", "scale": {"domain": [-119, 2580.5], "nice": false, "zero": false},
              "axis": {"orient": "left", "values": [-100,0,100,200,300,400,500,600,700,800,900,1000,1100,1200,1300,1400,1500,1600,1700,1800,1900,2000,2100,2200,2300,2400,2500], "tickCount": 100, "labelOverlap": false,
                "format": "d", "labelExpr": "datum.value % 500 === 0 ? datum.label : ''",
                "tickSize": {"condition": {"test": "datum.value % 500 === 0", "value": 13}, "value": -12},
                "tickColor": "#1a1a1a", "tickWidth": 2,
                "grid": true, "gridWidth": 2, "gridColor": "#141414",
                "gridOpacity": {"condition": {"test": "datum.value % 500 === 0", "value": 1}, "value": 0},
                "domain": false, "labelFontSize": 27, "labelPadding": 18, "labelColor": "#111111",
                "title": "Pressure", "titleFontSize": 28, "titleX": -111, "titleY": 305, "titleAlign": "center", "titleBaseline": "middle", "titleFontWeight": "normal", "titleColor": "#111111"}},
            "color": {"field": "s", "type": "nominal", "scale": {"domain": ["8370 Pressure", "8352 Pressure"], "range": ["#161616", "#e8262a"]},
              "legend": {"orient": "none", "legendX": 262, "legendY": -122, "direction": "vertical", "title": null, "padding": 0,
                "symbolSize": 900, "labelFontSize": 28, "labelFont": "Liberation Sans", "labelColor": "#111111", "labelAlign": "center", "labelOffset": -15, "labelLimit": 400, "rowPadding": 0,
                "encode": {
                  "symbols": {"update": {
                    "shape": {"signal": "datum.value === '8370 Pressure' ? 'M-2,-0.867H2V0.867H-2ZM-1.867,-0.733V0.733H1.867V-0.733ZM-0.36,-0.32H0.36L0,0.32Z' : 'M-2,-0.867H2V0.867H-2ZM-1.867,-0.733V0.733H1.867V-0.733ZM-0.36,0.32H0.36L0,-0.32Z'"},
                    "fill": {"signal": "datum.value === '8370 Pressure' ? '#161616' : '#e8262a'"},
                    "fillOpacity": {"value": 1}, "opacity": {"value": 1},
                    "stroke": {"value": "transparent"}, "strokeWidth": {"value": 0}}},
                  "labels": {"update": {"dy": {"value": 31}}}
                }}}
          }
        },
        {
          "data": {"name": "pressure"},
          "transform": [{"filter": "datum.s === '8370 Pressure'"}],
          "mark": {"type": "point", "shape": "triangle-down", "filled": true, "size": 90, "opacity": 1, "strokeWidth": 0},
          "encoding": {
            "x": {"field": "t", "type": "quantitative", "scale": {"domain": [12.2, 24.0], "nice": false, "zero": false}},
            "y": {"field": "v", "type": "quantitative", "scale": {"domain": [-119, 2580.5], "nice": false, "zero": false}},
            "color": {"field": "s", "type": "nominal"}
          }
        },
        {
          "data": {"name": "pressure"},
          "transform": [{"filter": "datum.s === '8352 Pressure'"}],
          "mark": {"type": "point", "shape": "triangle-up", "filled": true, "size": 90, "opacity": 1, "strokeWidth": 0},
          "encoding": {
            "x": {"field": "t", "type": "quantitative", "scale": {"domain": [12.2, 24.0], "nice": false, "zero": false}},
            "y": {"field": "v", "type": "quantitative", "scale": {"domain": [-119, 2580.5], "nice": false, "zero": false}},
            "color": {"field": "s", "type": "nominal"}
          }
        },
        {
          "data": {"name": "eventLabels"},
          "mark": {"type": "text", "align": "left", "baseline": "middle", "font": "Liberation Sans", "fontSize": 19, "color": "#e53a40"},
          "encoding": {
            "x": {"field": "t", "type": "quantitative", "scale": {"domain": [12.2, 24.0], "nice": false, "zero": false}},
            "y": {"field": "v", "type": "quantitative", "scale": {"domain": [-119, 2580.5], "nice": false, "zero": false}},
            "text": {"field": "label"}
          }
        },
        {
          "data": {"name": "notes"},
          "mark": {"type": "text", "align": "left", "baseline": "middle", "font": "Liberation Sans", "fontSize": 19, "color": "#47395f"},
          "encoding": {
            "x": {"field": "t", "type": "quantitative", "scale": {"domain": [12.2, 24.0], "nice": false, "zero": false}},
            "y": {"field": "v", "type": "quantitative", "scale": {"domain": [-119, 2580.5], "nice": false, "zero": false}},
            "text": {"field": "label"}
          }
        },
        {
          "data": {"name": "leaders"},
          "mark": {"type": "rule", "color": "#222222", "strokeWidth": 1.5},
          "encoding": {
            "x": {"field": "t", "type": "quantitative", "scale": {"domain": [12.2, 24.0], "nice": false, "zero": false}},
            "x2": {"field": "t2"},
            "y": {"field": "v", "type": "quantitative", "scale": {"domain": [-119, 2580.5], "nice": false, "zero": false}},
            "y2": {"field": "v2"}
          }
        },
        {
          "data": {"values": [{"t": 12.742, "v": 7}]},
          "mark": {"type": "point", "shape": "diamond", "size": 529, "filled": false, "stroke": "#2f86d6", "strokeWidth": 2, "opacity": 1},
          "encoding": {
            "x": {"field": "t", "type": "quantitative", "scale": {"domain": [12.2, 24.0], "nice": false, "zero": false}},
            "y": {"field": "v", "type": "quantitative", "scale": {"domain": [-119, 2580.5], "nice": false, "zero": false}}
          }
        }
      ]
    },
    {
      "layer": [
        {
          "data": {"name": "temperature"},
          "mark": {"type": "line", "strokeWidth": 1.3},
          "encoding": {
            "x": {"field": "t", "type": "quantitative", "scale": {"domain": [12.2, 24.0], "nice": false, "zero": false},
              "axis": {"orient": "bottom", "labels": false, "ticks": false, "domain": false, "grid": false,
                "title": "9 Thu May 2013", "titleX": -118, "titleY": 77, "titleAlign": "left", "titleBaseline": "middle", "titleFontSize": 28, "titleFontWeight": "normal", "titleColor": "#111111"}},
            "y": {"field": "v", "type": "quantitative", "scale": {"domain": [52.76, 120.87], "nice": false, "zero": false},
              "axis": {"orient": "right", "values": [54,56,58,60,62,64,66,68,70,72,74,76,78,80,82,84,86,88,90,92,94,96,98,100,102,104,106,108,110,112,114,116,118,120], "tickCount": 100, "labelOverlap": false,
                "format": "d", "labelExpr": "datum.value % 10 === 0 ? datum.label : ''",
                "tickSize": {"condition": {"test": "datum.value % 10 === 0", "value": 23}, "value": -13},
                "tickColor": "#1a1a1a", "tickWidth": 2, "grid": false, "domain": false,
                "labelFontSize": 27, "labelPadding": 13, "labelColor": "#111111",
                "title": "Temperature", "titleFontSize": 28, "titleX": 111, "titleY": 273, "titleAngle": 90, "titleAlign": "center", "titleBaseline": "middle", "titleFontWeight": "normal", "titleColor": "#111111"}},
            "color": {"field": "s", "type": "nominal", "scale": {"domain": ["8370 Temperature", "8352 Temperature"], "range": ["#8590a8", "#e8262a"]},
              "legend": {"orient": "none", "legendX": 821, "legendY": -122, "direction": "vertical", "title": null, "padding": 0,
                "symbolSize": 900, "labelFontSize": 28, "labelFont": "Liberation Sans", "labelColor": "#111111", "labelAlign": "center", "labelOffset": -15, "labelLimit": 400, "rowPadding": 0,
                "encode": {
                  "symbols": {"update": {
                    "shape": {"signal": "datum.value === '8370 Temperature' ? 'M-2,-0.867H2V0.867H-2ZM-1.867,-0.733V0.733H1.867V-0.733ZM-0.36,-0.32L0.36,-0.32L0,0.32ZM-0.22,-0.22L0,0.12L0.22,-0.22Z' : 'M-2,-0.867H2V0.867H-2ZM-1.867,-0.733V0.733H1.867V-0.733ZM-0.36,0.32L0,-0.32L0.36,0.32ZM-0.22,0.22L0.22,0.22L0,-0.12Z'"},
                    "fill": {"signal": "datum.value === '8370 Temperature' ? '#7f8aa3' : '#e8262a'"},
                    "fillOpacity": {"value": 1}, "opacity": {"value": 1},
                    "stroke": {"value": "transparent"}, "strokeWidth": {"value": 0}}},
                  "labels": {"update": {"dy": {"value": 31}}}
                }}}
          }
        },
        {
          "data": {"name": "temperature"},
          "transform": [{"filter": "datum.s === '8370 Temperature'"}],
          "mark": {"type": "point", "shape": "triangle-down", "filled": false, "size": 80, "strokeWidth": 1.5, "opacity": 1},
          "encoding": {
            "x": {"field": "t", "type": "quantitative", "scale": {"domain": [12.2, 24.0], "nice": false, "zero": false},
              "axis": {"orient": "bottom", "labels": false, "ticks": false, "domain": false, "grid": false,
                "title": "Gauge 8370: Displaying every 5 points.", "titleX": 1226, "titleY": 112, "titleAlign": "right", "titleBaseline": "middle", "titleFont": "Liberation Serif", "titleFontSize": 31, "titleFontWeight": "normal", "titleColor": "#111111"}},
            "y": {"field": "v", "type": "quantitative", "scale": {"domain": [52.76, 120.87], "nice": false, "zero": false},
              "axis": {"orient": "right", "values": [60,70,80,90,100,110,120], "tickCount": 100, "tickSize": -16, "tickColor": "#1a1a1a", "tickWidth": 2, "labels": false, "domain": false, "grid": false, "title": null}},
            "color": {"field": "s", "type": "nominal"}
          }
        },
        {
          "data": {"name": "temperature"},
          "transform": [{"filter": "datum.s === '8352 Temperature'"}],
          "mark": {"type": "point", "shape": "triangle-up", "filled": false, "size": 80, "strokeWidth": 1.5, "opacity": 1},
          "encoding": {
            "x": {"field": "t", "type": "quantitative", "scale": {"domain": [12.2, 24.0], "nice": false, "zero": false}, "axis": null},
            "y": {"field": "v", "type": "quantitative", "scale": {"domain": [52.76, 120.87], "nice": false, "zero": false}, "axis": null},
            "color": {"field": "s", "type": "nominal"}
          }
        },
        {
          "data": {"values": [{"t": 12.742, "v": 78.7}]},
          "mark": {"type": "point", "shape": "diamond", "size": 529, "filled": false, "stroke": "#2f86d6", "strokeWidth": 2, "opacity": 1},
          "encoding": {
            "x": {"field": "t", "type": "quantitative", "scale": {"domain": [12.2, 24.0], "nice": false, "zero": false}, "axis": null},
            "y": {"field": "v", "type": "quantitative", "scale": {"domain": [52.76, 120.87], "nice": false, "zero": false}, "axis": null}
          }
        }
      ],
      "resolve": {"axis": {"x": "independent", "y": "independent"}}
    }
  ],
  "resolve": {"scale": {"y": "independent", "color": "independent"}, "axis": {"x": "independent"}},
  "config": {
    "view": {"stroke": "#1c2536", "strokeWidth": 2},
    "font": "Liberation Sans",
    "axis": {"labelFont": "Liberation Sans", "titleFont": "Liberation Sans"},
    "legend": {"labelFont": "Liberation Sans"}
  }
}
